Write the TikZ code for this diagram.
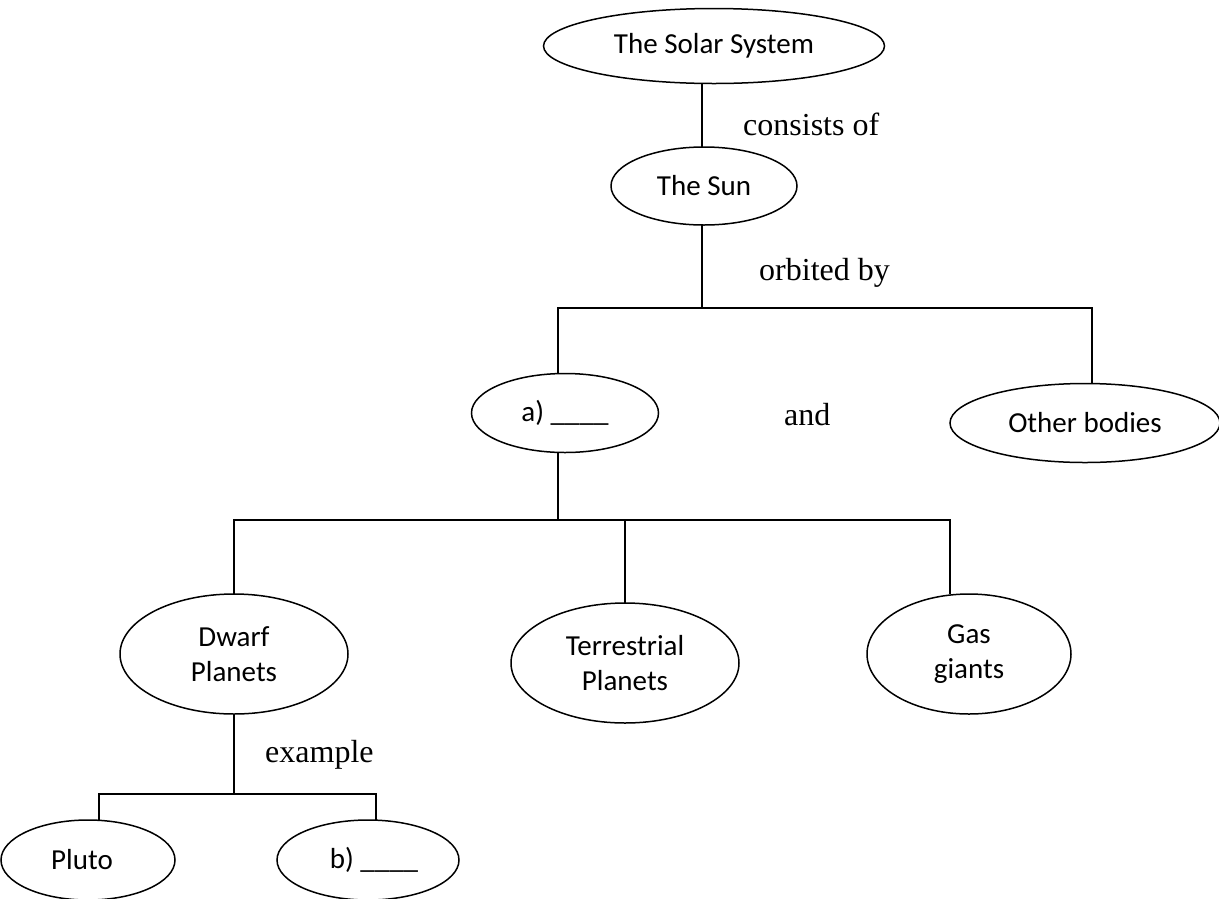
\documentclass[tikz,border=0pt]{standalone}
\usepackage{fontspec}
\setmainfont{Liberation Serif}
\newfontfamily\calib{Carlito}
\usetikzlibrary{shapes.geometric}
\tikzset{
  ell/.style={draw, ellipse, line width=1.5pt, inner sep=0pt, outer sep=0pt,
    font=\calib\fontsize{29}{35}\selectfont, align=center},
  conn/.style={line width=1.5pt},
  lbl/.style={font=\fontsize{32}{38}\selectfont, inner sep=0pt, anchor=base west}
}
\begin{document}
\begin{tikzpicture}[x=1pt, y=-1pt]
\useasboundingbox (0,0) rectangle (1219,898);
% nodes
\node[ell, minimum width=341pt, minimum height=75pt] (ss) at (714,46) {The Solar System};
\node[ell, minimum width=186pt, minimum height=78pt] (sun) at (704,186) {The Sun};
\node[ell, minimum width=187pt, minimum height=79pt] (a) at (565,413) {a) \_\_\_\_};
\node[ell, minimum width=270pt, minimum height=79pt] (other) at (1085,423) {Other bodies};
\node[ell, minimum width=228pt, minimum height=120pt] (dwarf) at (234,654) {Dwarf\\Planets};
\node[ell, minimum width=228pt, minimum height=120pt] (terr) at (625,663) {Terrestrial\\Planets};
\node[ell, minimum width=204pt, minimum height=120pt] (gas) at (969,654) {Gas\\giants};
\node[ell, minimum width=174pt, minimum height=80pt] (pluto) at (88,860) {};
\node[font=\calib\fontsize{29}{35}\selectfont] (plutot) at (82,860) {Pluto};
\node[ell, minimum width=182pt, minimum height=80pt] (b) at (368,860) {};
\node[font=\calib\fontsize{29}{35}\selectfont] (bt) at (374,860) {b) \_\_\_\_};
% labels
\node[lbl] (l1) at (743,135) {consists of};
\node[lbl] (l2) at (759,280) {orbited by};
\node[lbl] (l3) at (784,425) {and};
\node[lbl] (l4) at (265,762) {example};
% junction coordinates
\coordinate (j1) at (702,308);
\coordinate (j1L) at (558,308);
\coordinate (j1R) at (1092,308);
\coordinate (j2) at (558,520);
\coordinate (j2L) at (234,520);
\coordinate (j2M) at (625,520);
\coordinate (j2R) at (950,520);
\coordinate (j3) at (234,794);
\coordinate (j3L) at (99,794);
\coordinate (j3R) at (376,794);
% connectors
\draw[conn] (j1 |- ss.south) -- (j1 |- sun.north);
\draw[conn] (j1 |- sun.south) -- (j1);
\draw[conn] (j1L |- a.north) -- (j1L) -- (j1R) -- (j1R |- other.north);
\draw[conn] (j2 |- a.south) -- (j2);
\draw[conn] (j2L |- dwarf.north) -- (j2L) -- (j2R) -- (j2R |- gas.north);
\draw[conn] (j2M) -- (terr.north);
\draw[conn] (dwarf.south) -- (j3);
\draw[conn] (j3L |- pluto.north) -- (j3L) -- (j3R) -- (j3R |- b.north);
\end{tikzpicture}
\end{document}
